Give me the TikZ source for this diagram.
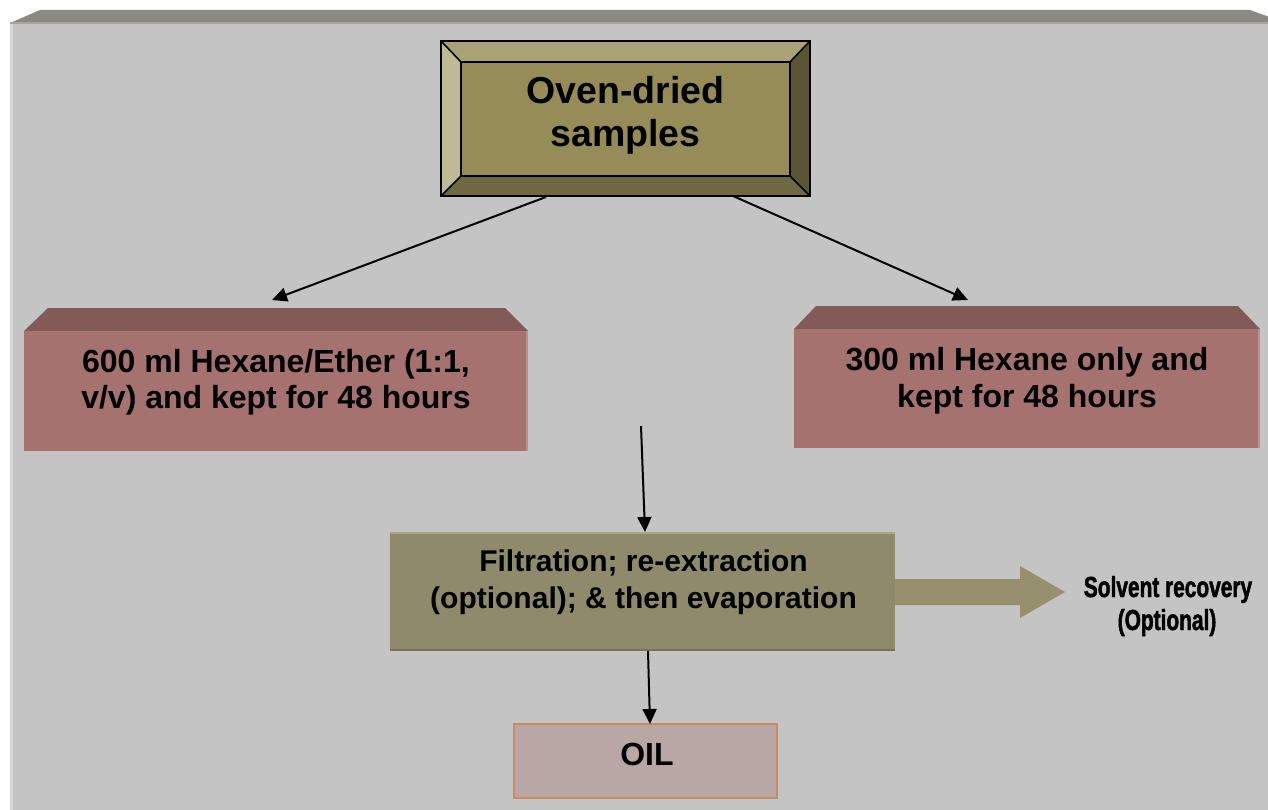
\documentclass[tikz,border=0pt]{standalone}
\usepackage{fontspec}
\setmainfont{Liberation Sans}
\newfontfamily\condfont{Liberation Sans}[FakeStretch=0.72,BoldFeatures={FakeBold=1.6}]
\usetikzlibrary{arrows.meta}
\definecolor{panel}{HTML}{C4C4C4}
\definecolor{panelhl}{HTML}{D6D6D6}
\definecolor{bevelgray}{HTML}{8A8983}
\definecolor{bevelline}{HTML}{A4A4A0}
\definecolor{ovtop}{HTML}{A8A276}
\definecolor{ovleft}{HTML}{BFB995}
\definecolor{ovright}{HTML}{5B5535}
\definecolor{ovbottom}{HTML}{6F6943}
\definecolor{ovinner}{HTML}{958C57}
\definecolor{pinktop}{HTML}{825B59}
\definecolor{pinkfront}{HTML}{A5726F}
\definecolor{pinkedge}{HTML}{C48C8A}
\definecolor{filt}{HTML}{8F8A6B}
\definecolor{filttop}{HTML}{AAA68A}
\definecolor{filtbot}{HTML}{767158}
\definecolor{arrowfill}{HTML}{96906F}
\definecolor{oilfill}{HTML}{B9A7A6}
\definecolor{oildraw}{HTML}{C98A5E}
\tikzset{
  boxnode/.style={rectangle,inner sep=0pt,draw=none},
  bigtxt/.style={anchor=base,inner sep=0pt,font=\fontsize{37.5}{44}\selectfont\bfseries},
  midtxt/.style={anchor=base,inner sep=0pt,font=\fontsize{32}{36}\selectfont\bfseries},
  filttxt/.style={anchor=base,inner sep=0pt,font=\fontsize{30}{37}\selectfont\bfseries},
  condtxt/.style={anchor=base,inner sep=0pt,font=\fontsize{29}{31}\condfont\bfseries},
  conn/.style={line width=2pt,-{Triangle[length=15pt,width=14pt]}},
  blackedge/.style={line width=1.6pt,black}
}
\begin{document}
\begin{tikzpicture}[x=1pt,y=-1pt]
\useasboundingbox (0,0) rectangle (1268,810);
\fill[white] (0,0) rectangle (1268,810);
% background panel
\fill[panel] (10,23) rectangle (1268,810);
\fill[panelhl] (10,23) rectangle (12.5,810);
\fill[bevelgray] (10,23) -- (40,10) -- (1250,10) -- (1268,16.5) -- (1268,23) -- cycle;
\fill[bevelline] (10,22) rectangle (1268,24.5);

% ---- top box: Oven-dried samples
\node[boxnode,minimum width=369pt,minimum height=155pt] (oven) at (625.5,118.5) {};
\fill[ovtop] (441,41) -- (810,41) -- (790,62) -- (461,62) -- cycle;
\fill[ovleft] (441,41) -- (461,62) -- (461,176) -- (441,196) -- cycle;
\fill[ovright] (810,41) -- (790,62) -- (790,176) -- (810,196) -- cycle;
\fill[ovbottom] (441,196) -- (461,176) -- (790,176) -- (810,196) -- cycle;
\fill[ovinner] (461,62) rectangle (790,176);
\draw[blackedge] (441,41) rectangle (810,196);
\draw[blackedge] (461,62) rectangle (790,176);
\draw[blackedge] (441,41) -- (461,62) (810,41) -- (790,62) (441,196) -- (461,176) (810,196) -- (790,176);
\node[bigtxt] (ovena) at (625.5,104) {Oven-dried};
\node[bigtxt] (ovenb) at (625.5,147) {samples};

% ---- left box
\node[boxnode,minimum width=504pt,minimum height=120pt] (left) at (276,391) {};
\fill[pinktop] (24,331) -- (48,308) -- (505,308) -- (528,331) -- cycle;
\fill[pinkfront] (24,331) rectangle (528,451);
\fill[pinkedge] (525.5,331) rectangle (528,451);
\node[midtxt] (lefta) at (276,372) {600 ml Hexane/Ether (1:1,};
\node[midtxt] (leftb) at (276,408) {v/v) and kept for 48 hours};

% ---- right box
\node[boxnode,minimum width=466pt,minimum height=119pt] (right) at (1027,388.5) {};
\fill[pinktop] (794,329) -- (816,306) -- (1238,306) -- (1260,329) -- cycle;
\fill[pinkfront] (794,329) rectangle (1260,448);
\fill[pinkedge] (1257.5,329) rectangle (1260,448);
\node[midtxt] (righta) at (1027,370) {300 ml Hexane only and};
\node[midtxt] (rightb) at (1027,407) {kept for 48 hours};

% ---- middle box
\node[boxnode,minimum width=505pt,minimum height=119pt] (filt) at (642.5,591.5) {};
\fill[filt] (390,532) rectangle (895,651);
\fill[filttop] (390,532) rectangle (895,534);
\fill[filtbot] (390,649) rectangle (895,651);
\node[filttxt] (filta) at (643.5,571) {Filtration; re-extraction};
\node[filttxt] (filtb) at (643.5,608) {(optional); \& then evaporation};

% block arrow to solvent recovery
\fill[arrowfill] (895,579) -- (1020,579) -- (1020,566) -- (1065,592) -- (1020,618) -- (1020,605) -- (895,605) -- cycle;
\node[condtxt] (solva) at (1168,597) {Solvent recovery};
\node[condtxt] (solvb) at (1167,630) {(Optional)};

% ---- OIL box
\node[boxnode,minimum width=263pt,minimum height=74pt,fill=oilfill,draw=oildraw,line width=1.6pt] (oil) at (645.5,761) {};
\node[midtxt] (oiltxt) at (647,765) {OIL};

% ---- connectors
\coordinate (c1) at (546,197);
\coordinate (c2) at (272,300);
\coordinate (c3) at (733,196);
\coordinate (c4) at (968,300);
\coordinate (c5) at (641,426);
\coordinate (c6) at (645,532);
\coordinate (c7) at (648,651);
\coordinate (c8) at (650,724);
\draw[conn] (c1) -- (c2);
\draw[conn] (c3) -- (c4);
\draw[conn] (c5) -- (c6);
\draw[conn] (c7) -- (c8);
\end{tikzpicture}
\end{document}
